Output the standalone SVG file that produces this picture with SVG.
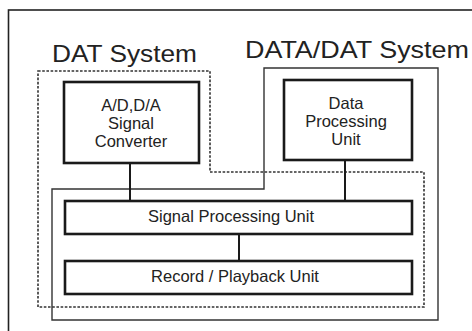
<svg xmlns="http://www.w3.org/2000/svg" width="472" height="331" viewBox="0 0 472 331">
  <style>
    .frame { fill: none; stroke: #222; stroke-width: 1.6; }
    .sys-dash { fill: none; stroke: #333; stroke-width: 1.6; stroke-dasharray: 2.6 1.6; }
    .sys-solid { fill: none; stroke: #333; stroke-width: 1.4; }
    .unit { fill: #fff; stroke: #1a1a1a; stroke-width: 2.6; }
    .link { stroke: #1a1a1a; stroke-width: 2; fill: none; }
    .title { font-family: "Liberation Sans", Arial, sans-serif; font-size: 24px; fill: #222; }
    .label { font-family: "Liberation Sans", Arial, sans-serif; font-size: 16.5px; fill: #222; text-anchor: middle; }
  </style>
  <rect width="472" height="331" fill="#fff"/>

  <!-- page frame, open to the right and bottom -->
  <rect class="frame" x="8.5" y="10" width="480" height="340"/>

  <!-- system boundaries -->
  <g id="dat-system">
    <path class="sys-dash" d="M38,71 H210 V172 H424 V307 H38 Z"/>
    <text class="title" x="52" y="62" textLength="145" lengthAdjust="spacingAndGlyphs">DAT System</text>
  </g>
  <g id="data-dat-system">
    <path class="sys-solid" d="M52,189 H264 V68 H438 V320 H52 Z"/>
    <text class="title" x="245" y="58" textLength="224" lengthAdjust="spacingAndGlyphs">DATA/DAT System</text>
  </g>

  <!-- connectors -->
  <g id="connectors">
    <line class="link" x1="130" y1="163" x2="130" y2="201"/>
    <line class="link" x1="345" y1="160" x2="345" y2="201"/>
    <line class="link" x1="239" y1="234" x2="239" y2="261"/>
  </g>

  <g id="ad-converter">
    <rect class="unit" x="64" y="82" width="135" height="81"/>
    <text class="label" x="131" y="111">A/D,D/A</text>
    <text class="label" x="131" y="129">Signal</text>
    <text class="label" x="131" y="147">Converter</text>
  </g>

  <g id="data-processing">
    <rect class="unit" x="284" y="80" width="128" height="80"/>
    <text class="label" x="346" y="109">Data</text>
    <text class="label" x="346" y="127">Processing</text>
    <text class="label" x="346" y="145">Unit</text>
  </g>

  <g id="signal-processing">
    <rect class="unit" x="65" y="201" width="347" height="33"/>
    <text class="label" x="231" y="222">Signal Processing Unit</text>
  </g>

  <g id="record-playback">
    <rect class="unit" x="65" y="261" width="347" height="33"/>
    <text class="label" x="235" y="282">Record / Playback Unit</text>
  </g>
</svg>
